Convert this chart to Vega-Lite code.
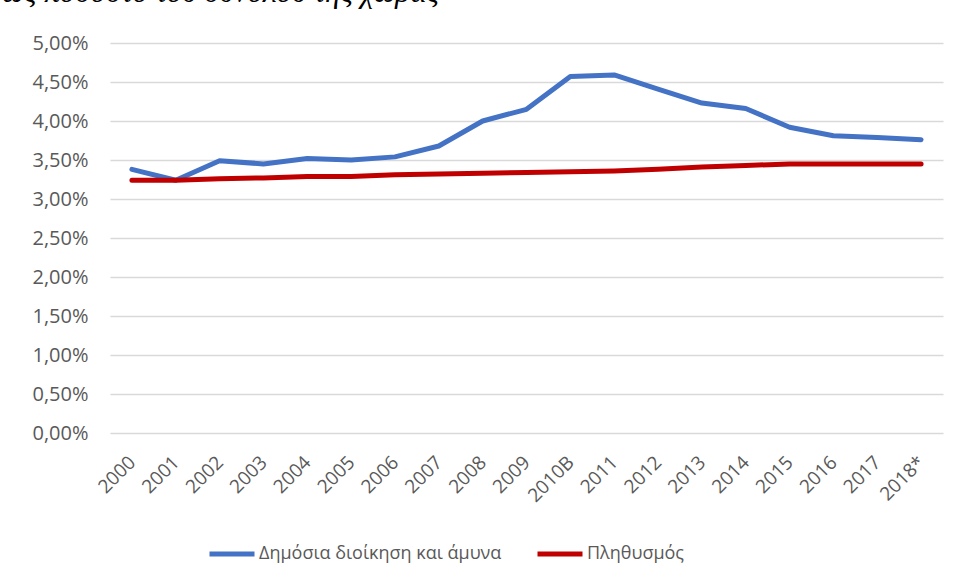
{
  "$schema": "https://vega.github.io/schema/vega-lite/v6.json",
  "width": 833,
  "height": 390,
  "autosize": {"type": "none"},
  "padding": {"left": 110, "top": 43, "right": 19, "bottom": 153},
  "background": "white",
  "title": {
    "text": "ως ποσοστό του συνόλου της χώρας",
    "anchor": "start",
    "frame": "group",
    "font": "Liberation Serif",
    "fontStyle": "italic",
    "fontWeight": "normal",
    "fontSize": 31,
    "color": "#000000",
    "baseline": "alphabetic",
    "offset": 0,
    "dx": -108
  },
  "data": {
    "values": [
      {"year": "2000", "series": "Δημόσια διοίκηση και άμυνα", "value": 0.0338},
      {"year": "2001", "series": "Δημόσια διοίκηση και άμυνα", "value": 0.0324},
      {"year": "2002", "series": "Δημόσια διοίκηση και άμυνα", "value": 0.0349},
      {"year": "2003", "series": "Δημόσια διοίκηση και άμυνα", "value": 0.0345},
      {"year": "2004", "series": "Δημόσια διοίκηση και άμυνα", "value": 0.0352},
      {"year": "2005", "series": "Δημόσια διοίκηση και άμυνα", "value": 0.0350},
      {"year": "2006", "series": "Δημόσια διοίκηση και άμυνα", "value": 0.0354},
      {"year": "2007", "series": "Δημόσια διοίκηση και άμυνα", "value": 0.0368},
      {"year": "2008", "series": "Δημόσια διοίκηση και άμυνα", "value": 0.0400},
      {"year": "2009", "series": "Δημόσια διοίκηση και άμυνα", "value": 0.0415},
      {"year": "2010B", "series": "Δημόσια διοίκηση και άμυνα", "value": 0.0457},
      {"year": "2011", "series": "Δημόσια διοίκηση και άμυνα", "value": 0.0459},
      {"year": "2012", "series": "Δημόσια διοίκηση και άμυνα", "value": 0.0441},
      {"year": "2013", "series": "Δημόσια διοίκηση και άμυνα", "value": 0.0423},
      {"year": "2014", "series": "Δημόσια διοίκηση και άμυνα", "value": 0.0416},
      {"year": "2015", "series": "Δημόσια διοίκηση και άμυνα", "value": 0.0392},
      {"year": "2016", "series": "Δημόσια διοίκηση και άμυνα", "value": 0.0381},
      {"year": "2017", "series": "Δημόσια διοίκηση και άμυνα", "value": 0.0379},
      {"year": "2018*", "series": "Δημόσια διοίκηση και άμυνα", "value": 0.0376},
      {"year": "2000", "series": "Πληθυσμός", "value": 0.0324},
      {"year": "2001", "series": "Πληθυσμός", "value": 0.0324},
      {"year": "2002", "series": "Πληθυσμός", "value": 0.0326},
      {"year": "2003", "series": "Πληθυσμός", "value": 0.0327},
      {"year": "2004", "series": "Πληθυσμός", "value": 0.0329},
      {"year": "2005", "series": "Πληθυσμός", "value": 0.0329},
      {"year": "2006", "series": "Πληθυσμός", "value": 0.0331},
      {"year": "2007", "series": "Πληθυσμός", "value": 0.0332},
      {"year": "2008", "series": "Πληθυσμός", "value": 0.0333},
      {"year": "2009", "series": "Πληθυσμός", "value": 0.0334},
      {"year": "2010B", "series": "Πληθυσμός", "value": 0.0335},
      {"year": "2011", "series": "Πληθυσμός", "value": 0.0336},
      {"year": "2012", "series": "Πληθυσμός", "value": 0.0338},
      {"year": "2013", "series": "Πληθυσμός", "value": 0.0341},
      {"year": "2014", "series": "Πληθυσμός", "value": 0.0343},
      {"year": "2015", "series": "Πληθυσμός", "value": 0.0345},
      {"year": "2016", "series": "Πληθυσμός", "value": 0.0345},
      {"year": "2017", "series": "Πληθυσμός", "value": 0.0345},
      {"year": "2018*", "series": "Πληθυσμός", "value": 0.0345}
    ]
  },
  "mark": {"type": "line", "strokeWidth": 5, "strokeCap": "round", "strokeJoin": "round"},
  "encoding": {
    "x": {
      "field": "year",
      "type": "ordinal",
      "sort": null,
      "scale": {"type": "point", "padding": 0.5},
      "axis": {
        "title": null,
        "labelAngle": -45,
        "labelAlign": "right",
        "labelBaseline": "middle",
        "labelPadding": 26,
        "ticks": false,
        "domain": false,
        "grid": false,
        "labelFont": "Open Sans",
        "labelFontSize": 19,
        "labelColor": "#595959"
      }
    },
    "y": {
      "field": "value",
      "type": "quantitative",
      "scale": {"domain": [0, 0.05]},
      "axis": {
        "title": null,
        "values": [0, 0.005, 0.01, 0.015, 0.02, 0.025, 0.03, 0.035, 0.04, 0.045, 0.05],
        "labelExpr": "replace(format(datum.value, '.2%'), '.', ',')",
        "ticks": false,
        "domain": false,
        "grid": true,
        "gridColor": "#d9d9d9",
        "gridWidth": 1.5,
        "labelPadding": 22,
        "labelFont": "Open Sans",
        "labelFontSize": 20,
        "labelColor": "#595959"
      }
    },
    "color": {
      "field": "series",
      "type": "nominal",
      "scale": {
        "domain": ["Δημόσια διοίκηση και άμυνα", "Πληθυσμός"],
        "range": ["#4472C4", "#C00000"]
      },
      "legend": {
        "title": null,
        "orient": "none",
        "legendX": 97,
        "legendY": 486,
        "direction": "horizontal",
        "symbolType": "stroke",
        "symbolSize": 2025,
        "symbolStrokeWidth": 5,
        "labelFont": "Open Sans",
        "labelFontSize": 18,
        "labelColor": "#595959",
        "labelOffset": 2,
        "labelLimit": 400,
        "columnPadding": 25
      }
    }
  },
  "config": {"view": {"stroke": null}}
}
